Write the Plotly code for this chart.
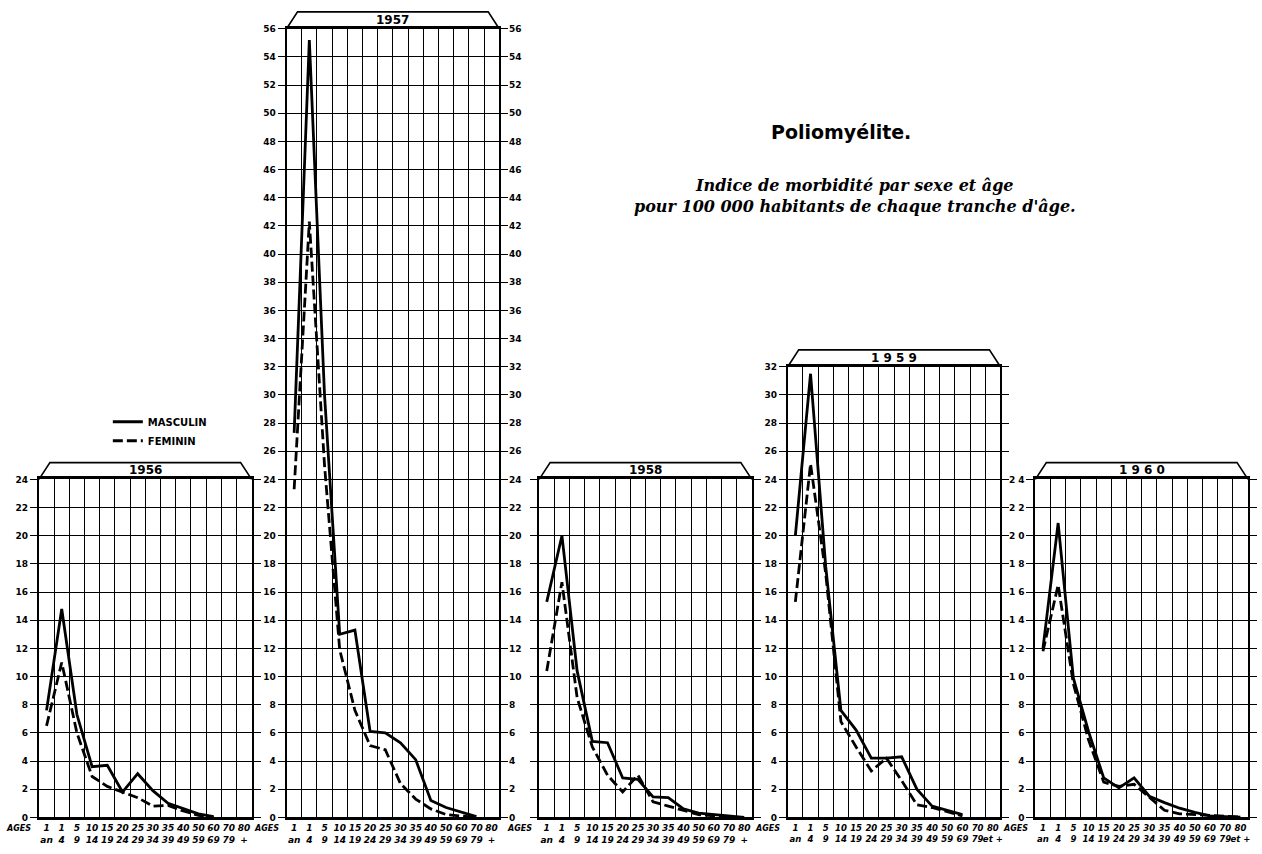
import plotly.graph_objects as go

W, H = 1262, 854

# ---------------- data ----------------
years = ["1956", "1957", "1958", "1959", "1960"]
year_labels = ["1956", "1957", "1958", "1 9 5 9", "1 9 6 0"]

age_top = ["1", "1", "5", "10", "15", "20", "25", "30", "35", "40", "50", "60", "70", "80"]
age_bottom = ["an", "4", "9", "14", "19", "24", "29", "34", "39", "49", "59", "69", "79", "+"]
age_bottom_et = ["an", "4", "9", "14", "19", "24", "29", "34", "39", "49", "59", "69", "79", "et +"]

masculin_1956 = [7.6, 14.8, 7.3, 3.6, 3.7, 1.8, 3.1, 1.9, 1.0, 0.6, 0.25, 0.05, None, None]
feminin_1956 = [6.5, 11.0, 6.0, 2.9, 2.2, 1.8, 1.4, 0.8, 0.85, 0.45, 0.15, 0.0, None, None]

masculin_1957 = [27.3, 55.2, 30.0, 13.0, 13.3, 6.1, 6.0, 5.3, 4.1, 1.2, 0.7, 0.35, 0.05, None]
feminin_1957 = [23.3, 42.3, 25.0, 11.9, 7.6, 5.1, 4.8, 2.4, 1.3, 0.6, 0.2, 0.1, 0.0, None]

masculin_1958 = [15.3, 20.0, 10.4, 5.4, 5.3, 2.8, 2.7, 1.45, 1.4, 0.6, 0.3, 0.2, 0.1, 0.0]
feminin_1958 = [10.4, 16.7, 8.5, 5.0, 3.0, 1.8, 3.0, 1.1, 0.8, 0.5, 0.2, 0.1, 0.05, None]

masculin_1959 = [20.0, 31.5, 17.8, 7.6, 6.2, 4.2, 4.2, 4.3, 2.0, 0.8, 0.5, 0.2, None, None]
feminin_1959 = [15.3, 25.1, 17.3, 6.8, 5.0, 3.3, 4.2, 2.6, 0.9, 0.7, 0.4, 0.1, None, None]

masculin_1960 = [12.0, 20.9, 9.9, 6.1, 2.8, 2.1, 2.8, 1.5, 1.05, 0.65, 0.35, 0.1, 0.05, 0.02]
feminin_1960 = [11.8, 16.5, 9.5, 5.5, 2.5, 2.2, 2.35, 1.4, 0.5, 0.25, 0.2, 0.1, 0.05, 0.02]

masculin = [masculin_1956, masculin_1957, masculin_1958, masculin_1959, masculin_1960]
feminin = [feminin_1956, feminin_1957, feminin_1958, feminin_1959, feminin_1960]

y_max = [24, 56, 24, 32, 24]
yticks_24 = list(range(0, 25, 2))
yticks_56 = list(range(0, 57, 2))
yticks_32 = list(range(0, 33, 2))
yticktext_1960 = ["0", "2", "4", "6", "8", "1 0", "1 2", "1 4", "1 6", "1 8", "2 0", "2 2", "2 4"]

# ---------------- layout geometry (pixels) ----------------
lefts = [39, 287, 540, 789, 1037]
pw = 213
bottom = 822
unit_px = 14.25


def px_x(p):
    return p / W


def px_y(p):
    return 1 - p / H


age_idx = list(range(len(age_top)))

fig = go.Figure()

tickfont_y = dict(family="DejaVu Sans", size=9, weight="bold", color="black")


def note(x, y, text, font, align="center"):
    fig.add_annotation(x=px_x(x), y=px_y(y), xref="paper", yref="paper", text=text,
                       showarrow=False, xanchor="center", yanchor="middle", align=align,
                       font=font)


for i in range(5):
    n = i + 1
    xs = f"x{n}" if n > 1 else "x"
    ys = f"y{n}" if n > 1 else "y"
    fig.add_trace(go.Scatter(
        x=age_idx, y=masculin[i], xaxis=xs, yaxis=ys, mode="lines",
        line=dict(color="black", width=2.8), name="MASCULIN",
        showlegend=(i == 0), legendrank=1, connectgaps=False, hoverinfo="skip"))
    fig.add_trace(go.Scatter(
        x=age_idx, y=feminin[i], xaxis=xs, yaxis=ys, mode="lines",
        line=dict(color="black", width=2.8, dash="10px,4px"), name="FEMININ",
        showlegend=(i == 0), legendrank=2, connectgaps=False, hoverinfo="skip"))

    top = bottom - y_max[i] * unit_px
    bottoms = age_bottom_et if i >= 3 else age_bottom
    ticktext = [f"{a}<br>{b}" for a, b in zip(age_top, bottoms)]
    xa = dict(
        domain=[px_x(lefts[i]), px_x(lefts[i] + pw)], range=[-0.5, 13.5],
        anchor=ys, tickmode="array", tickvals=age_idx, ticktext=ticktext, tickangle=0,
        showgrid=False, showline=True, linecolor="black", linewidth=3, mirror=True,
        ticks="", zeroline=False, fixedrange=True,
        tickfont=dict(family="DejaVu Sans", size=8.5 if i >= 3 else 9, style="italic",
                      weight="bold", color="black"),
        minor=dict(tickmode="array", tickvals=[k + 0.5 for k in range(13)],
                   showgrid=True, gridcolor="black", gridwidth=1.4, ticks=""),
    )
    yt = yticks_56 if y_max[i] == 56 else (yticks_32 if y_max[i] == 32 else yticks_24)
    ya = dict(
        domain=[px_y(bottom), px_y(top)], range=[0, y_max[i]], anchor=xs,
        tickmode="array", tickvals=yt,
        ticktext=yticktext_1960 if i == 4 else [str(v) for v in yt],
        showgrid=True, gridcolor="black", gridwidth=1.4,
        showline=True, linecolor="black", linewidth=2, mirror="allticks",
        ticks="outside", ticklen=7, tickwidth=1.4, tickcolor="black",
        showticklabels=(i != 2), tickfont=tickfont_y, zeroline=False, fixedrange=True,
    )
    fig.layout[f"xaxis{n}" if n > 1 else "xaxis"] = xa
    fig.layout[f"yaxis{n}" if n > 1 else "yaxis"] = ya

    # header trapezoid with year
    L, R = lefts[i], lefts[i] + pw
    path = (f"M {px_x(L)} {px_y(top)} L {px_x(L + 11)} {px_y(top - 17)} "
            f"L {px_x(R - 11)} {px_y(top - 17)} L {px_x(R)} {px_y(top)}")
    fig.add_shape(type="path", path=path, xref="paper", yref="paper",
                  line=dict(color="black", width=1.6))
    note((L + R) / 2, top - 9, year_labels[i],
         dict(family="DejaVu Sans", size=12, weight="bold", color="black"))
    note(L - 20, 833, "AGES",
         dict(family="DejaVu Sans", size=8, style="italic", weight="bold", color="black"))

# right-hand scale of the 1957 panel
fig.add_trace(go.Scatter(x=age_idx, y=masculin_1957, xaxis="x2", yaxis="y6", mode="lines",
                         line=dict(color="rgba(0,0,0,0)", width=0), showlegend=False,
                         hoverinfo="skip"))
fig.layout["yaxis6"] = dict(
    domain=[px_y(bottom), px_y(bottom - 56 * unit_px)], range=[0, 56], anchor="x2",
    overlaying="y2", side="right", tickmode="array", tickvals=yticks_56,
    showgrid=False, showline=False, ticks="outside", ticklen=7, tickwidth=1.4,
    tickcolor="black", tickfont=tickfont_y, zeroline=False, fixedrange=True,
)

# titles
note(842, 128, "<b>Poliomyélite.</b>", dict(family="DejaVu Sans", size=19, color="black"))
note(856, 193, "Indice de morbidité par sexe et âge<br>pour 100 000 habitants de chaque tranche d'âge.",
     dict(family="DejaVu Serif", size=16, style="italic", weight="bold", color="black"))

fig.update_layout(
    width=W, height=H, margin=dict(l=0, r=0, t=0, b=0),
    paper_bgcolor="white", plot_bgcolor="white",
    showlegend=True,
    legend=dict(x=px_x(108), y=px_y(407), xanchor="left", yanchor="top",
                bgcolor="rgba(0,0,0,0)", tracegroupgap=0,
                font=dict(family="DejaVu Sans", size=10, weight="bold", color="black")),
)

fig.write_html("out.html")
